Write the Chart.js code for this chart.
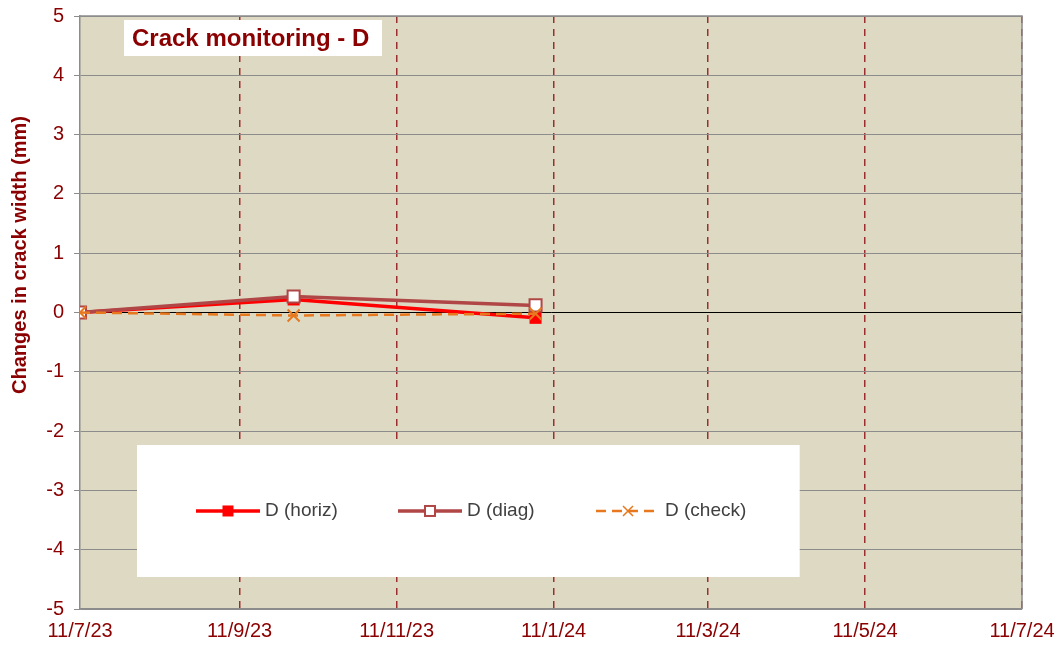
<!DOCTYPE html>
<html>
<head>
<meta charset="utf-8">
<script src="https://cdn.jsdelivr.net/npm/chart.js@4.4.1/dist/chart.umd.min.js"></script>
<style>
  html, body { margin: 0; padding: 0; background: #fff; }
  #wrap { width: 1060px; height: 646px; position: relative; }
</style>
</head>
<body>
<div id="wrap"><canvas id="c"></canvas></div>
<script>
// Reading dates (D/M/Y in the picture) and the change in crack width (mm).
var START_DATE = '2023-07-11';
var END_DATE = '2024-07-11';
var READING_DATES = ['2023-07-11', '2023-10-02', '2024-01-04'];
var HORIZ = [0, 0.22, -0.09];
var DIAG = [0, 0.27, 0.12];
var CHECK = [0, -0.05, -0.02];
var SERIES_NAMES = ['D (horiz)', 'D (diag)', 'D (check)'];
var TICK_DATES = ['2023-07-11', '2023-09-11', '2023-11-11', '2024-01-11', '2024-03-11', '2024-05-11', '2024-07-11'];
var TICK_LABELS = ['11/7/23', '11/9/23', '11/11/23', '11/1/24', '11/3/24', '11/5/24', '11/7/24'];
var Y_TICKS = [-5, -4, -3, -2, -1, 0, 1, 2, 3, 4, 5];
var TITLE = 'Crack monitoring - D';
var Y_TITLE = 'Changes in crack width (mm)';

var DARK_RED = '#8B0000';
var FONT = '"Liberation Sans", Arial, sans-serif';
var C_HORIZ = '#FF0000', C_DIAG = '#B04646', C_CHECK = '#E8781E';

// days since START_DATE, so the x axis can be a plain linear scale
function day(s) {
  return Math.round((Date.parse(s + 'T00:00:00Z') - Date.parse(START_DATE + 'T00:00:00Z')) / 86400000);
}
function pts(vals) {
  return vals.map(function (v, i) { return { x: day(READING_DATES[i]), y: v }; });
}

// plot background, title box, y title and the legend panel inside the plot
var decor = {
  id: 'decor',
  beforeDraw: function (chart) {
    var a = chart.chartArea, ctx = chart.ctx;
    ctx.save();
    ctx.fillStyle = '#DDD9C3';
    ctx.fillRect(a.left, a.top, a.right - a.left, a.bottom - a.top);
    ctx.restore();
  },
  beforeDatasetsDraw: function (chart) {
    var a = chart.chartArea, ctx = chart.ctx;
    ctx.save();
    ctx.strokeStyle = '#8C8C8C';
    ctx.lineWidth = 1.5;
    ctx.beginPath();
    ctx.moveTo(a.left, a.top); ctx.lineTo(a.right, a.top); ctx.lineTo(a.right, a.bottom);
    ctx.stroke();
    ctx.restore();
  },
  afterDraw: function (chart) {
    var a = chart.chartArea, ctx = chart.ctx;
    var w = a.right - a.left, h = a.bottom - a.top;
    ctx.save();
    // title box
    ctx.fillStyle = '#fff';
    ctx.fillRect(a.left + 44, a.top + 4, 258, 36);
    ctx.fillStyle = DARK_RED;
    ctx.font = 'bold 24px ' + FONT;
    ctx.textBaseline = 'middle';
    ctx.textAlign = 'left';
    ctx.fillText(TITLE, a.left + 52, a.top + 23);
    // y axis title
    ctx.save();
    ctx.translate(20, 255);
    ctx.rotate(-Math.PI / 2);
    ctx.textAlign = 'center';
    ctx.font = 'bold 20px ' + FONT;
    ctx.fillText(Y_TITLE, 0, 0);
    ctx.restore();
    // legend panel
    var bx = a.left + w * 0.0605, by = a.top + h * 0.7234;
    var bw = w * 0.7035, bh = h * 0.2226;
    ctx.fillStyle = '#fff';
    ctx.fillRect(bx, by, bw, bh);
    var ly = by + 66;
    var offs = [59, 261, 459];
    var ds = chart.data.datasets;
    offs.forEach(function (o, i) {
      var x0 = bx + o, x1 = x0 + 64, mx = x0 + 32;
      var d = ds[i];
      ctx.strokeStyle = d.borderColor;
      ctx.lineWidth = d.borderWidth;
      ctx.setLineDash(d.borderDash || []);
      ctx.beginPath(); ctx.moveTo(x0, ly); ctx.lineTo(x1, ly); ctx.stroke();
      ctx.setLineDash([]);
      if (i === 0) {
        ctx.fillStyle = C_HORIZ;
        ctx.fillRect(mx - 5.5, ly - 5.5, 11, 11);
      } else if (i === 1) {
        ctx.fillStyle = '#fff';
        ctx.fillRect(mx - 5, ly - 5, 10, 10);
        ctx.strokeStyle = C_DIAG; ctx.lineWidth = 2;
        ctx.strokeRect(mx - 5, ly - 5, 10, 10);
      } else {
        ctx.strokeStyle = C_CHECK; ctx.lineWidth = 1.5;
        ctx.beginPath();
        ctx.moveTo(mx - 5, ly - 5); ctx.lineTo(mx + 5, ly + 5);
        ctx.moveTo(mx + 5, ly - 5); ctx.lineTo(mx - 5, ly + 5);
        ctx.stroke();
      }
      ctx.fillStyle = '#404040';
      ctx.font = '19px ' + FONT;
      ctx.textAlign = 'left';
      ctx.textBaseline = 'middle';
      ctx.fillText(d.label, x1 + 5, ly);
    });
    ctx.restore();
  }
};

new Chart(document.getElementById('c'), {
  type: 'line',
  data: {
    datasets: [
      { label: SERIES_NAMES[0], data: pts(HORIZ), order: 2,
        borderColor: C_HORIZ, backgroundColor: C_HORIZ, borderWidth: 3.5,
        pointStyle: 'rect', pointRadius: 8.5, pointBorderWidth: 0, pointBackgroundColor: C_HORIZ },
      { label: SERIES_NAMES[1], data: pts(DIAG), order: 1,
        borderColor: C_DIAG, backgroundColor: '#fff', borderWidth: 3.5,
        pointStyle: 'rect', pointRadius: 8.5, pointBorderWidth: 2, pointBackgroundColor: '#fff', pointBorderColor: C_DIAG },
      { label: SERIES_NAMES[2], data: pts(CHECK), order: 0,
        borderColor: C_CHECK, backgroundColor: C_CHECK, borderWidth: 2.5, borderDash: [10, 6],
        pointStyle: 'crossRot', pointRadius: 8.5, pointBorderWidth: 2, pointBorderColor: C_CHECK }
    ]
  },
  options: {
    responsive: true, maintainAspectRatio: false, animation: false,
    layout: { padding: { top: 16, right: 38, left: 0, bottom: 0 } },
    plugins: { legend: { display: false }, tooltip: { enabled: false }, title: { display: false } },
    scales: {
      x: {
        type: 'linear', min: day(START_DATE), max: day(END_DATE),
        afterBuildTicks: function (s) { s.ticks = TICK_DATES.map(function (d) { return { value: day(d) }; }); },
        afterFit: function (s) { s.height = 37; s.paddingLeft = 0; s.paddingRight = 0; },
        ticks: {
          autoSkip: false, maxRotation: 0, padding: 10, color: DARK_RED,
          font: { family: FONT, size: 20 },
          callback: function (v, i) { return TICK_LABELS[i]; }
        },
        grid: {
          drawTicks: false, lineWidth: 1.5,
          color: function (c) { return c.tick && c.tick.value === 0 ? 'rgba(0,0,0,0)' : '#9B2F2F'; }
        },
        border: { display: true, color: '#8C8C8C', width: 1.5, dash: [7, 6] }
      },
      y: {
        min: -5, max: 5,
        afterBuildTicks: function (s) { s.ticks = Y_TICKS.map(function (v) { return { value: v }; }); },
        afterFit: function (s) { s.width = 80; s.paddingTop = 0; s.paddingBottom = 0; },
        ticks: { padding: 10, color: DARK_RED, font: { family: FONT, size: 20 } },
        grid: {
          tickLength: 6, lineWidth: 1,
          color: function (c) { return c.tick && c.tick.value === 0 ? '#000' : '#8C8C8C'; },
          tickColor: '#8C8C8C'
        },
        border: { display: true, color: '#8C8C8C', width: 1.5 }
      }
    }
  },
  plugins: [decor]
});
</script>
</body>
</html>
